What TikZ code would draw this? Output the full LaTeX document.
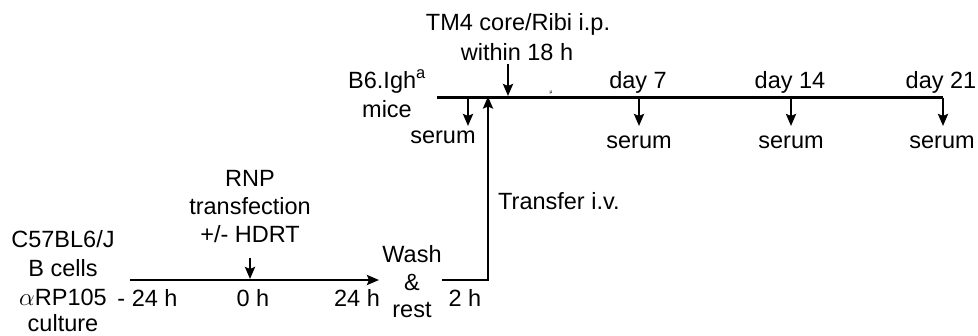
\documentclass[tikz,border=0pt]{standalone}
\usepackage{fontspec}
\setmainfont{Liberation Sans}
\usetikzlibrary{arrows.meta}
\begin{document}
\begin{tikzpicture}[x=1pt,y=-1pt,
  lbl/.style={inner sep=0pt,anchor=base,font=\fontsize{23.5}{28}\selectfont},
  tl/.style={line width=2.8pt},
  arr/.style={line width=2.8pt,-{Stealth[length=12pt,width=10pt,inset=2pt]}}]
\useasboundingbox (0,0) rectangle (978,335);
% bottom timeline
\coordinate (b0) at (130,280);
\coordinate (b1) at (379,280);
\coordinate (r0) at (250,258);
\coordinate (r1) at (250,279);
\coordinate (s0) at (442,280);
\coordinate (s1) at (488,280);
\coordinate (s2) at (488,96.5);
% top timeline
\coordinate (t0) at (437,97.5);
\coordinate (t1) at (943,97.5);
\coordinate (m0) at (508,64);
\coordinate (m1) at (508,96);
\coordinate (d0a) at (468,97.5);
\coordinate (d0b) at (468,126);
\coordinate (d1a) at (639,97.5);
\coordinate (d1b) at (639,126);
\coordinate (d2a) at (791,97.5);
\coordinate (d2b) at (791,126);
\coordinate (d3a) at (943,97.5);
\coordinate (d3b) at (943,126);

\draw[arr] (b0) -- (b1);
\draw[arr] (r0) -- (r1);
\draw[arr] (s0) -- (s1) -- (s2);
\draw[tl] (t0) -- (t1);
\draw[arr] (m0) -- (m1);
\draw[arr] (d0a) -- (d0b);
\draw[arr] (d1a) -- (d1b);
\draw[arr] (d2a) -- (d2b);
\draw[arr] (d3a) -- (d3b);

% left labels
\node[lbl] (c1) at (63,247) {C57BL6/J};
\node[lbl] (c2) at (63,276) {B cells};
\node[lbl] (c3) at (63,305) {$\alpha$RP105};
\node[lbl] (c4) at (63,331) {culture};
\node[lbl] (h1) at (147.5,306) {- 24 h};
\node[lbl] (h2) at (253,306) {0 h};
\node[lbl] (h3) at (357,306) {24 h};
\node[lbl] (h4) at (465,306) {2 h};
\node[lbl] (w1) at (412,262) {Wash};
\node[lbl] (w2) at (412,290) {\&};
\node[lbl] (w3) at (412,317) {rest};
\node[lbl] (n1) at (250,186) {RNP};
\node[lbl] (n2) at (250,214) {transfection};
\node[lbl] (n3) at (250,242) {+/- HDRT};
\node[lbl,anchor=base west] (tr) at (498,209) {Transfer i.v.};
% top labels
\node[lbl] (tm1) at (518,30) {TM4 core/Ribi i.p.};
\node[lbl] (tm2) at (517,60) {within 18 h};
\node[lbl] (bm1) at (387,88) {B6.Igh\textsuperscript{a}};
\node[lbl] (bm2) at (387,117) {mice};
\node[lbl] (dy1) at (638,88) {day 7};
\node[lbl] (dy2) at (790,88) {day 14};
\node[lbl] (dy3) at (941,88) {day 21};
\node[lbl] (se0) at (443,143) {serum};
\node[lbl] (se1) at (639,148) {serum};
\node[lbl] (se2) at (791,148) {serum};
\node[lbl] (se3) at (942,148) {serum};
\node[inner sep=0pt,font=\fontsize{5}{6}\selectfont] (mu) at (551,93) {μ};
\end{tikzpicture}
\end{document}
